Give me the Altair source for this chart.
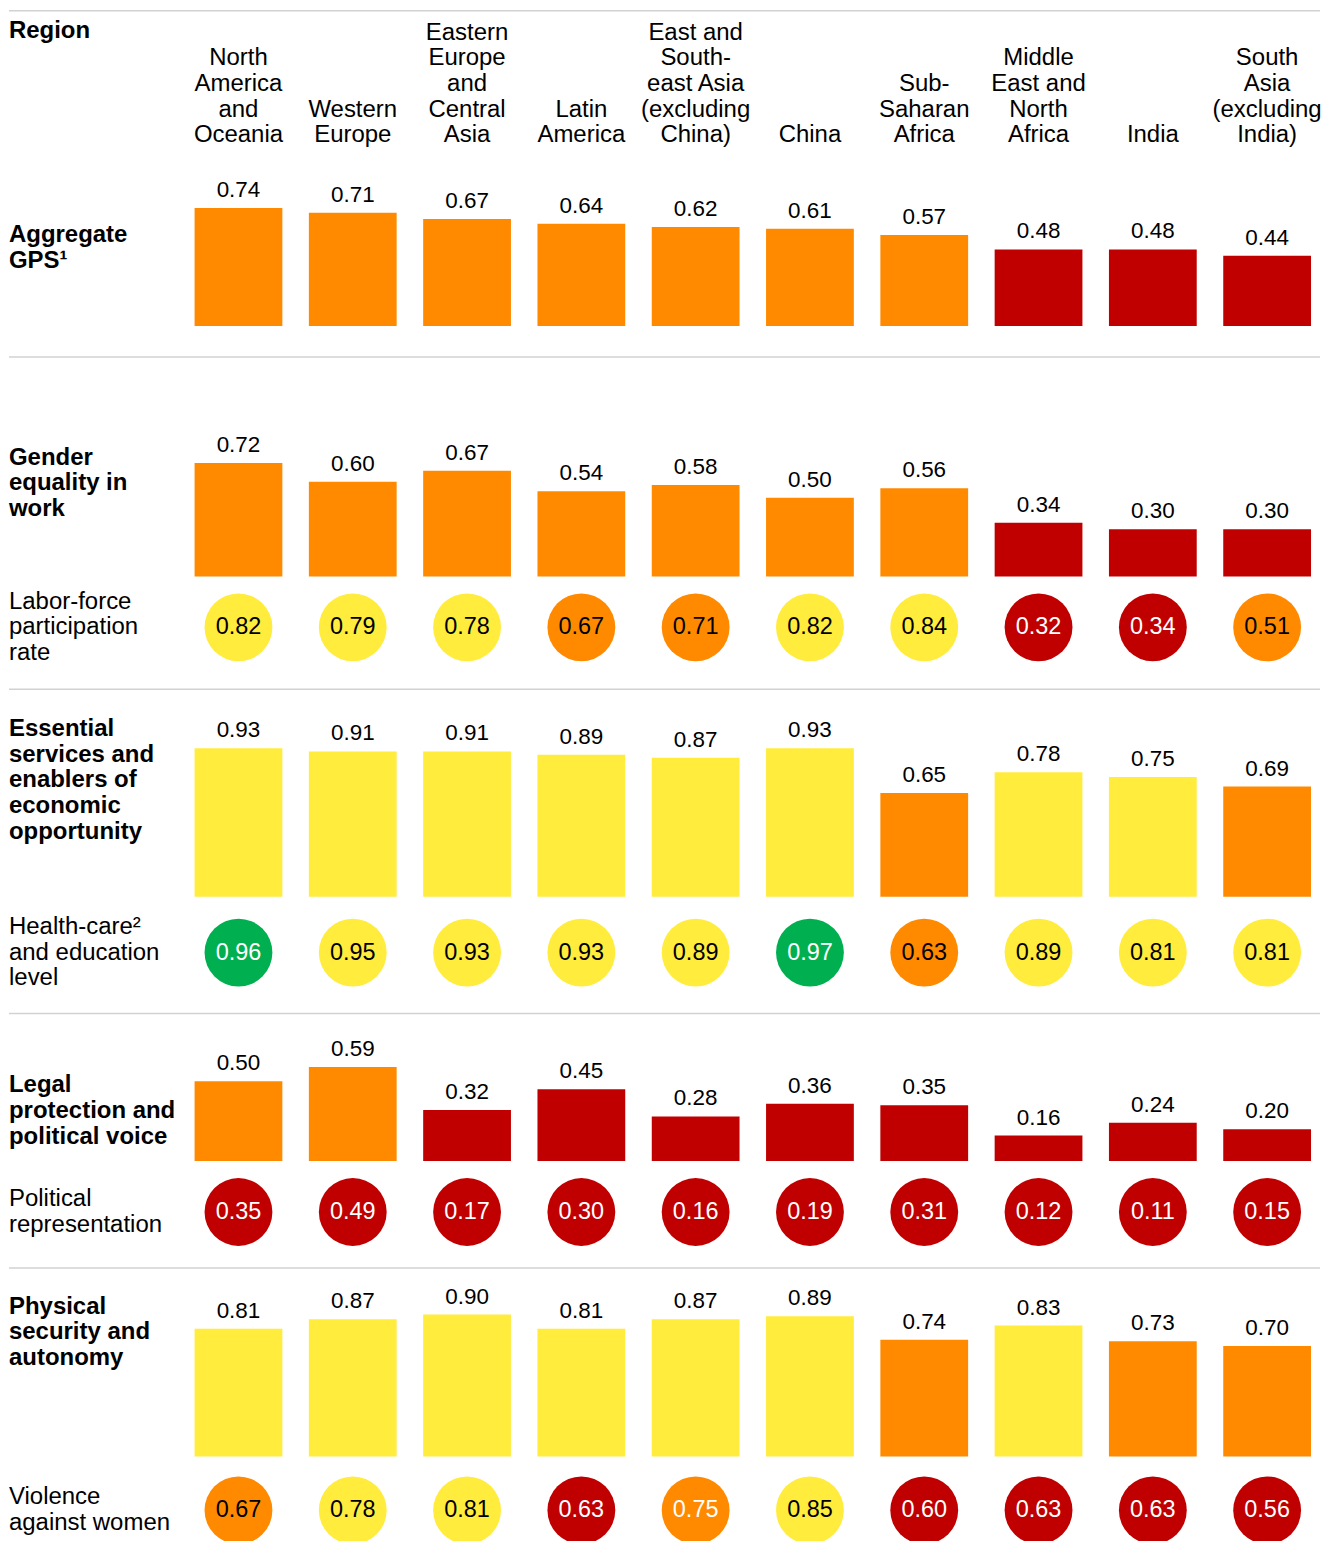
import altair as alt
import pandas as pd

# ---------------- data ----------------
regions = [
    "North America and Oceania", "Western Europe", "Eastern Europe and Central Asia",
    "Latin America", "East and South-east Asia (excluding China)", "China",
    "Sub-Saharan Africa", "Middle East and North Africa", "India", "South Asia (excluding India)",
]
region_headers = [
    "North\nAmerica\nand\nOceania", "Western\nEurope", "Eastern\nEurope\nand\nCentral\nAsia",
    "Latin\nAmerica", "East and\nSouth-\neast Asia\n(excluding\nChina)", "China",
    "Sub-\nSaharan\nAfrica", "Middle\nEast and\nNorth\nAfrica", "India", "South\nAsia\n(excluding\nIndia)",
]

gps_values = [0.74, 0.71, 0.67, 0.64, 0.62, 0.61, 0.57, 0.48, 0.48, 0.44]
gps_levels = ["high"] * 7 + ["extreme"] * 3

gender_values = [0.72, 0.60, 0.67, 0.54, 0.58, 0.50, 0.56, 0.34, 0.30, 0.30]
gender_levels = ["high"] * 7 + ["extreme"] * 3
labor_values = [0.82, 0.79, 0.78, 0.67, 0.71, 0.82, 0.84, 0.32, 0.34, 0.51]
labor_levels = ["medium", "medium", "medium", "high", "high", "medium", "medium", "extreme", "extreme", "high"]

essential_values = [0.93, 0.91, 0.91, 0.89, 0.87, 0.93, 0.65, 0.78, 0.75, 0.69]
essential_levels = ["medium"] * 6 + ["high", "medium", "medium", "high"]
health_values = [0.96, 0.95, 0.93, 0.93, 0.89, 0.97, 0.63, 0.89, 0.81, 0.81]
health_levels = ["low", "medium", "medium", "medium", "medium", "low", "high", "medium", "medium", "medium"]

legal_values = [0.50, 0.59, 0.32, 0.45, 0.28, 0.36, 0.35, 0.16, 0.24, 0.20]
legal_levels = ["high", "high"] + ["extreme"] * 8
political_values = [0.35, 0.49, 0.17, 0.30, 0.16, 0.19, 0.31, 0.12, 0.11, 0.15]
political_levels = ["extreme"] * 10

physical_values = [0.81, 0.87, 0.90, 0.81, 0.87, 0.89, 0.74, 0.83, 0.73, 0.70]
physical_levels = ["medium"] * 6 + ["high", "medium", "high", "high"]
violence_values = [0.67, 0.78, 0.81, 0.63, 0.75, 0.85, 0.60, 0.63, 0.63, 0.56]
violence_levels = ["high", "medium", "medium", "extreme", "high", "medium", "extreme", "extreme", "extreme", "extreme"]

levels = ["low", "medium", "high", "extreme"]
level_colors = ["#00B050", "#FFEC3D", "#FF8A00", "#C00000"]
level_text = {"low": "white", "medium": "black", "high": "black", "extreme": "white"}
white_text_exceptions = {("violence", "East and South-east Asia (excluding China)")}

# ---------------- styling ----------------
FONT = "Liberation Sans, Arial, sans-serif"
W = 1314
RULE = "#D2D2D2"
LH = 25.75
LABEL_SIZE = 24
xscale = alt.Scale(type="band", domain=regions, range=[177, W], paddingInner=0.232,
                   paddingOuter=0.0786, round=False)
X = alt.X("region:N", scale=xscale, axis=None, sort=regions)
COLOR = alt.Color("level:N", scale=alt.Scale(domain=levels, range=level_colors), legend=None)


def rule_layer(y=0):
    return alt.Chart(pd.DataFrame({"r": [0]})).mark_rule(color=RULE, strokeWidth=1.5).encode(
        x=alt.value(0), x2=alt.value(W), y=alt.value(y)
    )


def bar_panel(values, lvls, label, h, lo, hi, label_y, top_rule):
    df = pd.DataFrame({"region": regions, "value": values, "level": lvls})
    Y = alt.Y("value:Q", scale=alt.Scale(domain=[lo, hi], nice=False, zero=False), axis=None)
    base = alt.Chart(df)
    bars = base.mark_bar(stroke=None).encode(x=X, y=Y, y2=alt.datum(0), color=COLOR)
    txt = base.mark_text(dy=-11, baseline="alphabetic", fontSize=22.5, font=FONT, color="black").encode(
        x=X, y=Y, text=alt.Text("value:Q", format=".2f")
    )
    lab = alt.Chart(pd.DataFrame({"t": [label]})).mark_text(
        align="left", baseline="alphabetic", fontSize=LABEL_SIZE, font=FONT, fontWeight="bold",
        lineBreak="\n", lineHeight=LH, color="black"
    ).encode(x=alt.value(0), y=alt.value(label_y), text="t:N")
    layers = [bars, txt, lab]
    if top_rule:
        layers.append(rule_layer())
    return alt.layer(*layers).properties(width=W, height=h)


def circle_panel(key, values, lvls, label, h, align):
    tcol = [
        "white" if (key, r) in white_text_exceptions else level_text[l]
        for r, l in zip(regions, lvls)
    ]
    df = pd.DataFrame({"region": regions, "value": values, "level": lvls, "row": label, "tc": tcol})
    Y = alt.Y("row:N", axis=None, scale=alt.Scale(align=align, padding=0))
    base = alt.Chart(df)
    circ = base.mark_circle(size=68 * 68, opacity=1).encode(x=X, y=Y, color=COLOR)
    txt = base.mark_text(baseline="middle", fontSize=23.5, font=FONT).encode(
        x=X, y=Y, text=alt.Text("value:Q", format=".2f"), color=alt.Color("tc:N", scale=None)
    )
    n_lines = label.count("\n") + 1
    lab = alt.Chart(pd.DataFrame({"row": [label]})).mark_text(
        align="left", baseline="middle", fontSize=LABEL_SIZE, font=FONT,
        lineBreak="\n", lineHeight=LH, color="black", dy=-(n_lines - 1) * LH / 2
    ).encode(x=alt.value(0), y=Y, text="row:N")
    return alt.layer(circ, txt, lab).properties(width=W, height=h)


# header: bottom-align multi-line headers, one text layer per line count
hdr_df = pd.DataFrame({
    "region": regions,
    "header": region_headers,
    "nlines": [hd.count("\n") + 1 for hd in region_headers],
})
HDR_BASE = 133  # baseline of the last header line
header_layers = [
    rule_layer(1),
    alt.Chart(pd.DataFrame({"t": ["Region"]})).mark_text(
        align="left", baseline="alphabetic", fontSize=LABEL_SIZE, font=FONT, fontWeight="bold", color="black"
    ).encode(x=alt.value(0), y=alt.value(28), text="t:N"),
]
for n in sorted(hdr_df["nlines"].unique()):
    header_layers.append(
        alt.Chart(hdr_df).transform_filter(alt.datum.nlines == int(n)).mark_text(
            align="center", baseline="alphabetic", fontSize=LABEL_SIZE, font=FONT, lineBreak="\n",
            lineHeight=LH, color="black", dy=-(int(n) - 1) * LH
        ).encode(x=X, y=alt.value(HDR_BASE), text="header:N")
    )
header = alt.layer(*header_layers).properties(width=W, height=162)

panels = [
    header,
    bar_panel(gps_values, gps_levels, "Aggregate\nGPS\u00b9", 186, -31 / 160, 155 / 160, 71, False),
    bar_panel(gender_values, gender_levels, "Gender\nequality in\nwork", 220, 0, 220 / 158, 108, True),
    circle_panel("labor", labor_values, labor_levels, "Labor-force\nparticipation\nrate", 113, 51 / 113),
    bar_panel(essential_values, essential_levels,
              "Essential\nservices and\nenablers of\neconomic\nopportunity", 208, 0, 208 / 160, 47, True),
    circle_panel("health", health_values, health_levels, "Health-care\u00b2\nand education\nlevel", 117, 56 / 117),
    bar_panel(legal_values, legal_levels, "Legal\nprotection and\npolitical voice", 148, 0, 148 / 160, 79, True),
    circle_panel("political", political_values, political_levels, "Political\nrepresentation", 107, 51 / 107),
    bar_panel(physical_values, physical_levels, "Physical\nsecurity and\nautonomy", 189, 0, 189 / 158, 46, True),
    circle_panel("violence", violence_values, violence_levels, "Violence\nagainst women", 75, 54 / 75),
]

chart = alt.vconcat(*panels, spacing=0, bounds="flush").properties(
    padding={"left": 0, "top": 0, "right": 0, "bottom": 0}
).configure_view(stroke=None)

chart.save("out.html", embed_options={"renderer": "svg", "actions": False})
